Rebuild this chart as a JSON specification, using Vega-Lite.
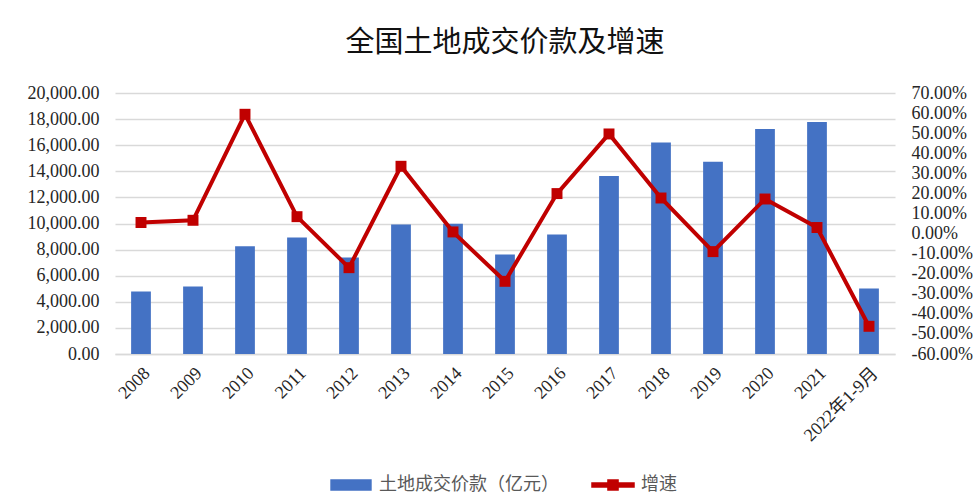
{
  "$schema": "https://vega.github.io/schema/vega-lite/v6.json",
  "width": 780,
  "height": 261,
  "autosize": {"type": "none"},
  "padding": {"left": 115, "top": 93, "right": 84, "bottom": 150},
  "background": "white",
  "title": {
    "text": "全国土地成交价款及增速",
    "font": "Noto Sans CJK SC",
    "fontSize": 29,
    "fontWeight": "normal",
    "color": "#111111",
    "anchor": "middle",
    "offset": 26
  },
  "data": {
    "values": [
      {"year": "2008", "value": 4780, "growth": 0.055},
      {"year": "2009", "value": 5170, "growth": 0.066},
      {"year": "2010", "value": 8250, "growth": 0.594},
      {"year": "2011", "value": 8920, "growth": 0.084},
      {"year": "2012", "value": 7390, "growth": -0.17},
      {"year": "2013", "value": 9920, "growth": 0.335},
      {"year": "2014", "value": 9990, "growth": 0.008},
      {"year": "2015", "value": 7620, "growth": -0.238},
      {"year": "2016", "value": 9150, "growth": 0.199},
      {"year": "2017", "value": 13640, "growth": 0.496},
      {"year": "2018", "value": 16200, "growth": 0.177},
      {"year": "2019", "value": 14740, "growth": -0.09},
      {"year": "2020", "value": 17240, "growth": 0.172},
      {"year": "2021", "value": 17780, "growth": 0.03},
      {"year": "2022年1-9月", "value": 5010, "growth": -0.462}
    ]
  },
  "encoding": {
    "x": {
      "field": "year",
      "type": "nominal",
      "sort": null,
      "title": null,
      "scale": {"paddingInner": 0.62, "paddingOuter": 0.31},
      "axis": {
        "labelAngle": -45,
        "labelFont": "'Liberation Serif', 'Noto Sans CJK SC'",
        "labelFontSize": 18,
        "labelColor": "#262626",
        "labelPadding": 10,
        "ticks": false,
        "domainColor": "#D9D9D9",
        "domainWidth": 1.5
      }
    }
  },
  "layer": [
    {
      "mark": {"type": "bar"},
      "encoding": {
        "y": {
          "field": "value",
          "type": "quantitative",
          "title": null,
          "scale": {"domain": [0, 20000]},
          "axis": {
            "values": [0, 2000, 4000, 6000, 8000, 10000, 12000, 14000, 16000, 18000, 20000],
            "format": ",.2f",
            "labelFont": "Liberation Serif",
            "labelFontSize": 18,
            "labelColor": "#262626",
            "labelPadding": 16,
            "ticks": false,
            "domain": false,
            "grid": true,
            "gridColor": "#D9D9D9",
            "gridWidth": 1.5
          }
        },
        "color": {
          "datum": "土地成交价款（亿元）",
          "type": "nominal",
          "scale": {"domain": ["土地成交价款（亿元）", "增速"], "range": ["#4472C4", "#C00000"]},
          "legend": {
            "orient": "none",
            "direction": "horizontal",
            "legendX": 214,
            "legendY": 370,
            "title": null,
            "padding": 0,
            "symbolSize": 1764,
            "labelFont": "Noto Sans CJK SC",
            "labelFontSize": 18,
            "labelColor": "#595959",
            "labelOffset": 6,
            "labelLimit": 0,
            "columnPadding": 30,
            "encode": {
              "symbols": {
                "update": {
                  "shape": {"signal": "datum.value === '增速' ? 'M-1,-0.09H1V0.09H-1Z M-0.24,-0.24H0.24V0.24H-0.24Z' : 'M-0.95,-0.24H0.95V0.24H-0.95Z'"},
                  "fill": {"signal": "datum.value === '增速' ? '#C00000' : '#4472C4'"},
                  "stroke": {"value": "transparent"},
                  "opacity": {"value": 1}
                }
              }
            }
          }
        }
      }
    },
    {
      "mark": {
        "type": "line",
        "strokeWidth": 4,
        "point": {"shape": "square", "size": 120, "filled": true, "opacity": 1}
      },
      "encoding": {
        "y": {
          "field": "growth",
          "type": "quantitative",
          "title": null,
          "scale": {"domain": [-0.6, 0.7]},
          "axis": {
            "orient": "right",
            "values": [-0.6, -0.5, -0.4, -0.3, -0.2, -0.1, 0, 0.1, 0.2, 0.3, 0.4, 0.5, 0.6, 0.7],
            "labelExpr": "(datum.value < -0.0001 ? '-' : '') + format(abs(datum.value), '.2%')",
            "labelFont": "Liberation Serif",
            "labelFontSize": 18,
            "labelColor": "#262626",
            "labelPadding": 16,
            "ticks": false,
            "domain": false,
            "grid": false
          }
        },
        "color": {"datum": "增速", "type": "nominal"}
      }
    }
  ],
  "resolve": {"scale": {"y": "independent"}},
  "config": {
    "view": {"stroke": null},
    "axis": {"labelOverlap": false}
  }
}
